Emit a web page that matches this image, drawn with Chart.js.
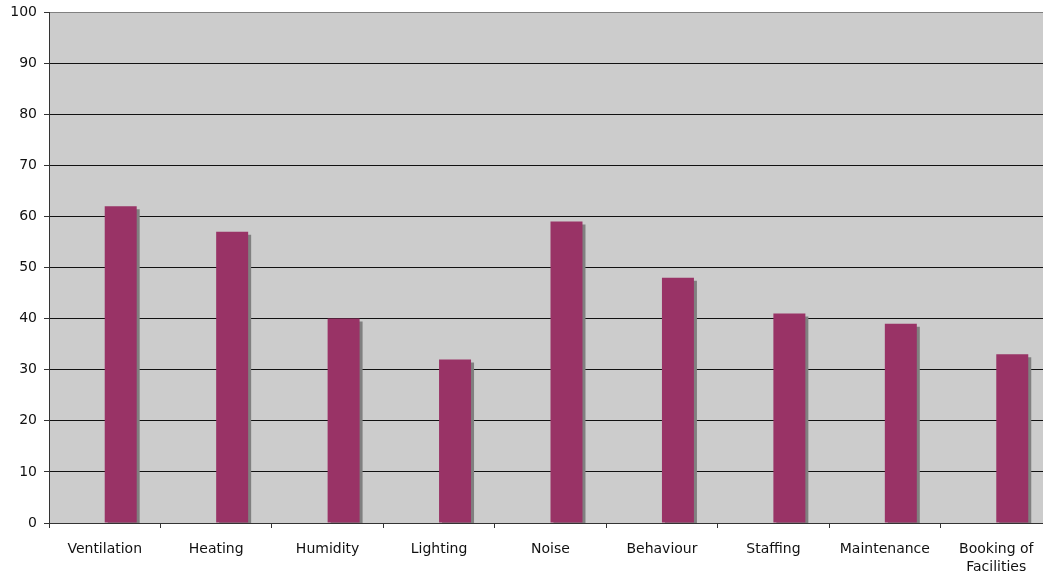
<!DOCTYPE html>
<html>
<head>
<meta charset="utf-8">
<script src="https://cdn.jsdelivr.net/npm/chart.js@4/dist/chart.umd.min.js"></script>
<style>
  html, body { margin: 0; padding: 0; background: #fff; overflow: hidden; }
  #wrap { width: 1052px; height: 573px; position: relative; }
</style>
</head>
<body>
<div id="wrap"><canvas id="chart"></canvas></div>
<script>
const categories = ["Ventilation", "Heating", "Humidity", "Lighting", "Noise",
    "Behaviour", "Staffing", "Maintenance", ["Booking of", "Facilities"]];
const emptySeries = [null, null, null, null, null, null, null, null, null];
const scores = [62, 57, 40, 32, 59, 48, 41, 39, 33];
const yTicks = [0, 10, 20, 30, 40, 50, 60, 70, 80, 90, 100];

// grey plot background
const plotBackground = {
    id: "plotBackground",
    beforeDraw(chart) {
        const { ctx, chartArea: a } = chart;
        ctx.save();
        ctx.fillStyle = "#cccccc";
        ctx.fillRect(a.left, a.top, a.right - a.left, a.bottom - a.top);
        ctx.restore();
    }
};

// hard drop shadow behind the bars
const barShadow = {
    id: "barShadow",
    beforeDatasetDraw(chart) {
        const ctx = chart.ctx;
        ctx.save();
        ctx.shadowColor = "#808080";
        ctx.shadowOffsetX = 3;
        ctx.shadowOffsetY = 3;
        ctx.shadowBlur = 0;
    },
    afterDatasetDraw(chart) {
        chart.ctx.restore();
    }
};

document.addEventListener("DOMContentLoaded", () => {
    const ctx = document.getElementById("chart").getContext("2d");
    new Chart(ctx, {
        type: "bar",
        data: {
            labels: categories,
            datasets: [
                { label: "", data: emptySeries, backgroundColor: "#993366" },
                { label: "Score", data: scores, backgroundColor: "#993366" }
            ]
        },
        options: {
            responsive: true,
            maintainAspectRatio: false,
            animation: false,
            layout: { padding: { top: 12, left: 0, right: 0, bottom: 0 } },
            categoryPercentage: 0.574,
            barPercentage: 1,
            plugins: {
                legend: { display: false },
                tooltip: { enabled: false }
            },
            scales: {
                x: {
                    grid: {
                        drawOnChartArea: false,
                        drawTicks: true,
                        tickLength: 5,
                        color: "#333333"
                    },
                    border: { color: "#333333", width: 1 },
                    ticks: {
                        color: "#111111",
                        font: { family: "DejaVu Sans", size: 14, lineHeight: 1.3 },
                        padding: 12,
                        maxRotation: 0,
                        autoSkip: false
                    },
                    afterFit(scale) {
                        scale.height = 50;
                        scale.paddingLeft = 0;
                        scale.paddingRight = 0;
                    }
                },
                y: {
                    min: 0,
                    max: 100,
                    afterBuildTicks(scale) {
                        scale.ticks = yTicks.map(v => ({ value: v }));
                    },
                    grid: {
                        color: c => (c.tick && c.tick.value === 100) ? "#808080" : "#111111",
                        tickColor: "#333333",
                        tickLength: 5,
                        lineWidth: 1
                    },
                    border: { color: "#333333", width: 1 },
                    ticks: {
                        color: "#111111",
                        font: { family: "DejaVu Sans", size: 14 },
                        padding: 7
                    },
                    afterFit(scale) {
                        scale.width = 49;
                        scale.paddingTop = 0;
                        scale.paddingBottom = 0;
                    }
                }
            }
        },
        plugins: [plotBackground, barShadow]
    });
});
</script>
</body>
</html>
